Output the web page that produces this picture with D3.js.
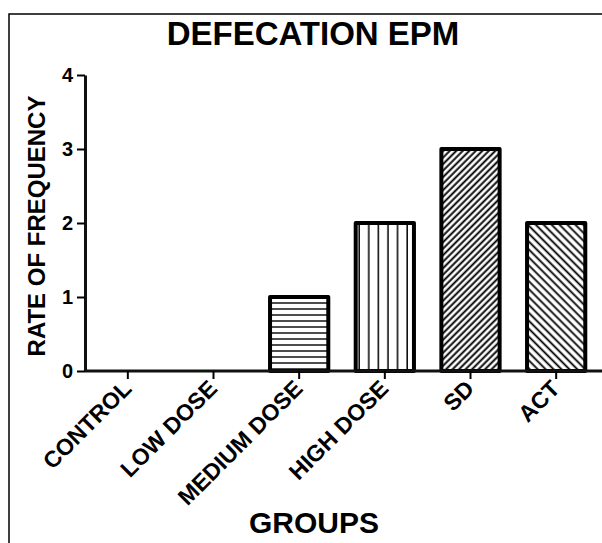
<!DOCTYPE html>
<html><head><meta charset="utf-8">
<script src="https://cdn.jsdelivr.net/npm/d3@7"></script>
<style>body{margin:0;background:#fff}svg{display:block}text{font-family:"Liberation Sans",Arial,sans-serif;font-weight:bold;fill:#000}</style>
</head><body><svg id="c" width="602" height="543"></svg>
<script>
const categories = ["CONTROL","LOW DOSE","MEDIUM DOSE","HIGH DOSE","SD","ACT"];
const values = [0,0,1,2,3,2];
const patterns = ["none","none","hlines","vlines","diagUp","diagDown"];
const yTicks = [0,1,2,3,4];
const title = "DEFECATION EPM";
const xTitle = "GROUPS";
const yTitle = "RATE OF FREQUENCY";

const svg = d3.select("#c");
const defs = svg.append("defs");
function pat(id, w, h, rot, draw){
  const p = defs.append("pattern").attr("id",id).attr("patternUnits","userSpaceOnUse")
    .attr("width",w).attr("height",h);
  if(rot) p.attr("patternTransform","rotate("+rot+")");
  p.append("rect").attr("width",w).attr("height",h).attr("fill","#fff");
  draw(p);
}
pat("hlines",10,6,0,p=>p.append("line").attr("x1",0).attr("x2",10).attr("y1",3).attr("y2",3).attr("stroke","#000").attr("stroke-width",1.4));
pat("vlines",9.6,10,0,p=>p.append("line").attr("x1",4).attr("x2",4).attr("y1",0).attr("y2",10).attr("stroke","#000").attr("stroke-width",1.5));
pat("diagUp",4.6,10,45,p=>p.append("line").attr("x1",1.5).attr("x2",1.5).attr("y1",0).attr("y2",10).attr("stroke","#000").attr("stroke-width",1.9));
pat("diagDown",5.6,10,-45,p=>p.append("line").attr("x1",1.5).attr("x2",1.5).attr("y1",0).attr("y2",10).attr("stroke","#000").attr("stroke-width",1.8));

// frame
svg.append("rect").attr("x",9).attr("y",14).attr("width",700).attr("height",700)
  .attr("fill","none").attr("stroke","#000").attr("stroke-width",1.5);

const x = d3.scaleBand().domain(categories).range([85,599]).paddingInner(0.32).paddingOuter(0.16);
const y = d3.scaleLinear().domain([0,4]).range([371,75]);

// bars
svg.append("g").selectAll("rect").data(categories).join("rect")
  .attr("x",d=>x(d)).attr("width",x.bandwidth())
  .attr("y",(d,i)=>y(values[i])).attr("height",(d,i)=>y(0)-y(values[i]))
  .attr("fill",(d,i)=>patterns[i]==="none"?"#fff":"url(#"+patterns[i]+")")
  .attr("stroke","#000").attr("stroke-width",(d,i)=>values[i]>0?4:0).attr("stroke-linejoin","round");

// y axis
const ya = svg.append("g").attr("transform","translate(85,0)")
  .call(d3.axisLeft(y).tickValues(yTicks).tickFormat(d3.format("d")).tickSize(8).tickSizeOuter(0).tickPadding(4));
ya.select(".domain").attr("stroke","#111").attr("stroke-width",3);
ya.selectAll(".tick line").attr("stroke","#000").attr("stroke-width",2);
ya.selectAll(".tick text").style("font-size","20px").style("font-family","Liberation Sans, Arial").style("font-weight","bold").attr("fill","#000");

// x axis
const xa = svg.append("g").attr("transform","translate(0,371)")
  .call(d3.axisBottom(x).tickSize(8).tickSizeOuter(0));
xa.select(".domain").attr("d","M85,0H602").attr("stroke","#111").attr("stroke-width",3);
xa.selectAll(".tick line").attr("stroke","#000").attr("stroke-width",2);
xa.selectAll(".tick text").style("font-size","23px").style("font-family","Liberation Sans, Arial").style("font-weight","bold").attr("fill","#000")
  .attr("text-anchor","end").attr("dy",null).attr("y",0).attr("x",0)
  .attr("transform","translate(5,19) rotate(-45)");

// titles
svg.append("text").attr("x",313).attr("y",45).attr("text-anchor","middle").style("font-size","33px").text(title);
svg.append("text").attr("x",314).attr("y",533).attr("text-anchor","middle").style("font-size","30px").text(xTitle);
svg.append("text").attr("transform","translate(45,226) rotate(-90)").attr("text-anchor","middle").style("font-size","24px").text(yTitle);
</script></body></html>
